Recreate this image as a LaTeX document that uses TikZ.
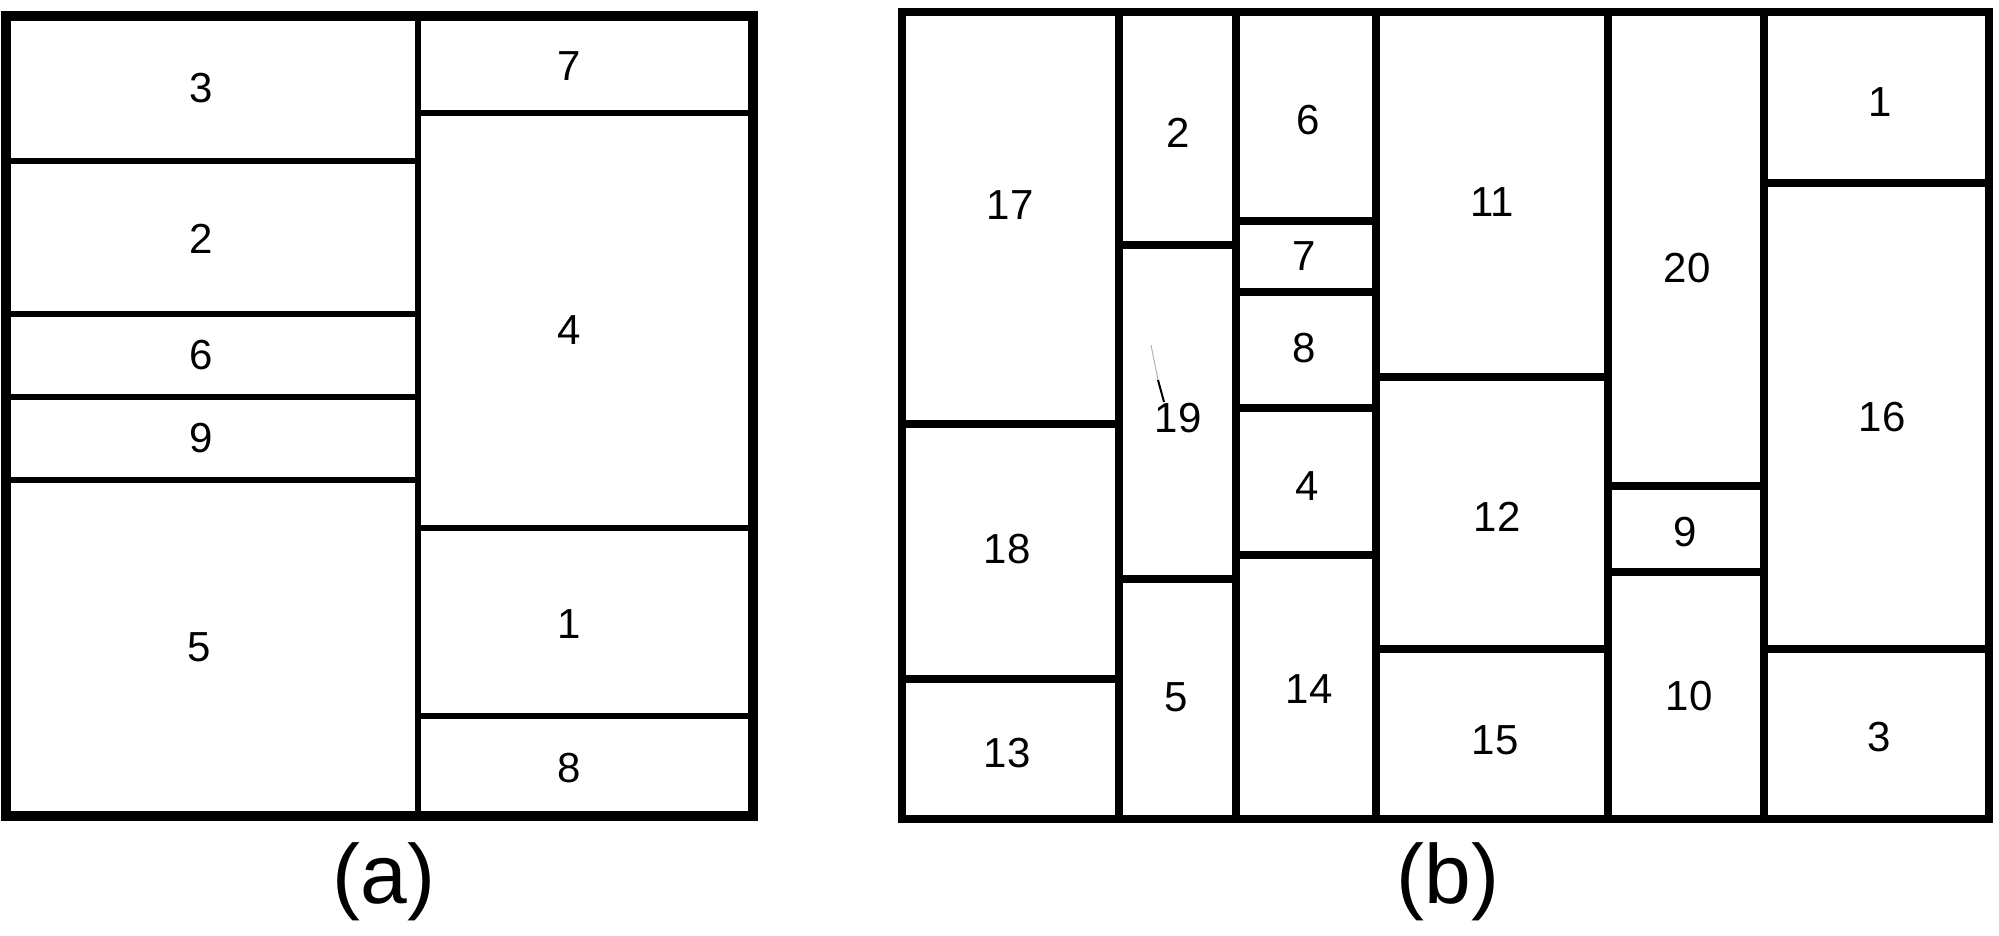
\documentclass[tikz,border=0pt]{standalone}
\usepackage{fontspec}
\setmainfont{Liberation Sans}
\begin{document}
\begin{tikzpicture}[x=1pt,y=-1pt,
  lab/.style={font=\fontsize{42}{48}\selectfont, inner sep=0pt},
  captext/.style={font=\fontsize{84}{96}\selectfont, inner sep=0pt},
  outA/.style={line width=10pt},
  inA/.style={line width=6pt},
  lineB/.style={line width=7.5pt}]
\useasboundingbox (0,0) rectangle (1999,936);

% ---------- panel (a) ----------
\draw[inA] (418,16) -- (418,816);
\draw[inA] (6,161) -- (418,161);
\draw[inA] (6,314) -- (418,314);
\draw[inA] (6,397) -- (418,397);
\draw[inA] (6,480) -- (418,480);
\draw[inA] (418,113) -- (753,113);
\draw[inA] (418,528) -- (753,528);
\draw[inA] (418,716) -- (753,716);
\draw[outA] (6,16) rectangle (753,816);

\node[lab] (a3) at (201,88) {3};
\node[lab] (a2) at (201,239) {2};
\node[lab] (a6) at (201,355) {6};
\node[lab] (a9) at (201,438) {9};
\node[lab] (a5) at (199,647) {5};
\node[lab] (a7) at (569,66) {7};
\node[lab] (a4) at (569,330) {4};
\node[lab] (a1) at (569,624) {1};
\node[lab] (a8) at (569,768) {8};
\node[captext] (capa) at (384,882) {(a)};

% ---------- panel (b) ----------
\draw[lineB] (1119,12) -- (1119,819);
\draw[lineB] (1236,12) -- (1236,819);
\draw[lineB] (1376,12) -- (1376,819);
\draw[lineB] (1608,12) -- (1608,819);
\draw[lineB] (1764,12) -- (1764,819);
\draw[lineB] (902,424) -- (1119,424);
\draw[lineB] (902,679) -- (1119,679);
\draw[lineB] (1119,245) -- (1236,245);
\draw[lineB] (1119,579) -- (1236,579);
\draw[lineB] (1236,221) -- (1376,221);
\draw[lineB] (1236,292) -- (1376,292);
\draw[lineB] (1236,408) -- (1376,408);
\draw[lineB] (1236,555) -- (1376,555);
\draw[lineB] (1376,377) -- (1608,377);
\draw[lineB] (1376,649) -- (1608,649);
\draw[lineB] (1608,486) -- (1764,486);
\draw[lineB] (1608,572) -- (1764,572);
\draw[lineB] (1764,183) -- (1989,183);
\draw[lineB] (1764,649) -- (1989,649);
\draw[lineB] (902,12) rectangle (1989,819);
% stray pencil mark near 19
\draw[line width=1pt, black!30] (1151,345) -- (1158,380);
\draw[line width=2pt] (1158,380) -- (1164,402);

\node[lab] (b17) at (1010,205) {17};
\node[lab] (b18) at (1007,549) {18};
\node[lab] (b13) at (1007,753) {13};
\node[lab] (b2) at (1178,133) {2};
\node[lab] (b19) at (1178,418) {19};
\node[lab] (b5) at (1176,697) {5};
\node[lab] (b6) at (1308,120) {6};
\node[lab] (b7) at (1304,256) {7};
\node[lab] (b8) at (1304,348) {8};
\node[lab] (b4) at (1307,486) {4};
\node[lab] (b14) at (1309,689) {14};
\node[lab] (b11) at (1492,202) {11};
\node[lab] (b12) at (1497,517) {12};
\node[lab] (b15) at (1495,740) {15};
\node[lab] (b20) at (1687,268) {20};
\node[lab] (b9) at (1685,532) {9};
\node[lab] (b10) at (1689,696) {10};
\node[lab] (b1) at (1880,102) {1};
\node[lab] (b16) at (1882,417) {16};
\node[lab] (b3) at (1879,737) {3};
\node[captext] (capb) at (1448,882) {(b)};
\end{tikzpicture}
\end{document}
